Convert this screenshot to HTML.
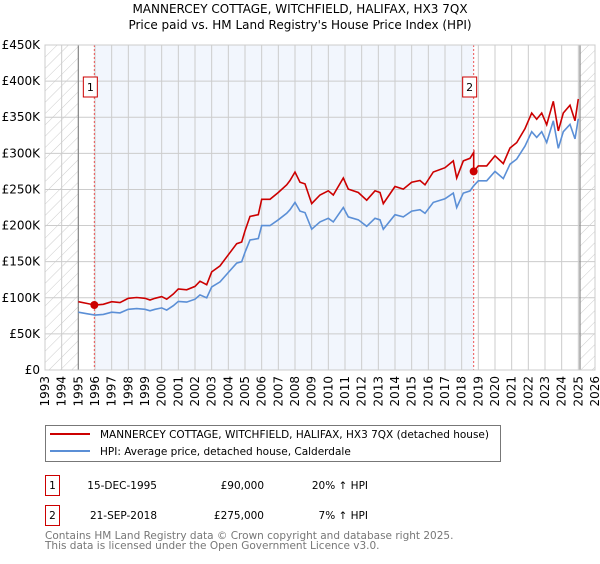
<!DOCTYPE html>
<html><head><meta charset="utf-8"><style>
body{margin:0;background:#fff;font-family:"DejaVu Sans","Liberation Sans",sans-serif;}
svg text{font-family:"DejaVu Sans","Liberation Sans",sans-serif;}
</style></head><body>
<svg id="chart" width="600" height="560" xmlns="http://www.w3.org/2000/svg">
<defs>
<pattern id="hatch" patternUnits="userSpaceOnUse" width="8" height="8" patternTransform="rotate(45)">
<line x1="0" y1="0" x2="0" y2="8" stroke="#ccc" stroke-width="1"/></pattern>
</defs>
<text x="300" y="13" text-anchor="middle" font-size="12">MANNERCEY COTTAGE, WITCHFIELD, HALIFAX, HX3 7QX</text>
<text x="300" y="29" text-anchor="middle" font-size="12">Price paid vs. HM Land Registry's House Price Index (HPI)</text>
<g id="plot"></g>
<g>
<rect x="45.5" y="425.5" width="455" height="36" fill="#fff" stroke="#777"/>
<line x1="50" y1="434" x2="90" y2="434" stroke="#cc0000" stroke-width="2"/>
<text x="100" y="438" font-size="10.5">MANNERCEY COTTAGE, WITCHFIELD, HALIFAX, HX3 7QX (detached house)</text>
<line x1="50" y1="451" x2="90" y2="451" stroke="#5b8fd6" stroke-width="2"/>
<text x="100" y="455" font-size="10.5">HPI: Average price, detached house, Calderdale</text>
</g>
<g font-size="10.5">
<rect x="45.5" y="475.5" width="14" height="20" fill="#fff" stroke="#cc0000"/>
<text x="52.5" y="489" text-anchor="middle">1</text>
<text x="157" y="489" text-anchor="end">15-DEC-1995</text>
<text x="264" y="489" text-anchor="end">£90,000</text>
<text x="368" y="489" text-anchor="end">20% ↑ HPI</text>
<rect x="45.5" y="505.5" width="14" height="20" fill="#fff" stroke="#cc0000"/>
<text x="52.5" y="519" text-anchor="middle">2</text>
<text x="157" y="519" text-anchor="end">21-SEP-2018</text>
<text x="264" y="519" text-anchor="end">£275,000</text>
<text x="368" y="519" text-anchor="end">7% ↑ HPI</text>
</g>
<text x="45" y="539" font-size="10.5" fill="#777">Contains HM Land Registry data © Crown copyright and database right 2025.</text>
<text x="45" y="549" font-size="10.5" fill="#777">This data is licensed under the Open Government Licence v3.0.</text>
</svg>
<script>
const hpiYears=[1995.0,1995.5,1996.0,1996.5,1997.0,1997.5,1998.0,1998.5,1999.0,1999.3,1999.6,2000.0,2000.3,2000.7,2001.0,2001.5,2002.0,2002.3,2002.7,2003.0,2003.5,2004.0,2004.5,2004.8,2005.0,2005.3,2005.8,2006.0,2006.5,2007.0,2007.5,2007.7,2008.0,2008.3,2008.6,2009.0,2009.5,2010.0,2010.3,2010.9,2011.2,2011.8,2012.3,2012.8,2013.1,2013.3,2014.0,2014.5,2015.0,2015.5,2015.8,2016.3,2017.0,2017.5,2017.7,2018.1,2018.5,2018.72,2019.0,2019.5,2020.0,2020.5,2020.9,2021.3,2021.8,2022.2,2022.5,2022.8,2023.1,2023.5,2023.8,2024.1,2024.5,2024.8,2025.0];
const hpiValues=[80,78,76,77,80,79,84,85,84,82,84,86,83,89,95,94,98,104,100,115,122,135,148,150,163,180,182,200,200,208,217,222,232,220,218,195,205,210,205,225,212,208,199,210,208,195,215,212,220,222,217,232,237,245,225,245,248,255,262,262,275,265,285,292,310,330,322,330,315,345,307,330,340,320,348];
const saleYears=[1995.96,2018.72];
const salePrices=[90,275];
const saleLabels=["1","2"];
const yTicks=[0,50,100,150,200,250,300,350,400,450];
const yTickLabels=["£0","£50K","£100K","£150K","£200K","£250K","£300K","£350K","£400K","£450K"];
const xTicks=[1993,1994,1995,1996,1997,1998,1999,2000,2001,2002,2003,2004,2005,2006,2007,2008,2009,2010,2011,2012,2013,2014,2015,2016,2017,2018,2019,2020,2021,2022,2023,2024,2025,2026];

const NS="http://www.w3.org/2000/svg";
const X0=45,X1=595,Y0=370,Y1=45;
const xs=y=>X0+(y-1993)/(2026-1993)*(X1-X0);
const ys=v=>Y0-v/450*(Y0-Y1);
const g=document.getElementById('plot');
function mk(t,a){const e=document.createElementNS(NS,t);for(const k in a)e.setAttribute(k,a[k]);g.appendChild(e);return e;}
function hpiAt(t){for(let i=1;i<hpiYears.length;i++){if(t<=hpiYears[i]){const f=(t-hpiYears[i-1])/(hpiYears[i]-hpiYears[i-1]);return hpiValues[i-1]+f*(hpiValues[i]-hpiValues[i-1]);}}return hpiValues[hpiValues.length-1];}

let e=mk('rect',{x:xs(1993),y:Y1,width:xs(1995)-xs(1993),height:Y0-Y1,fill:'url(#hatch)'});

e=mk('rect',{x:xs(2025.1),y:Y1,width:X1-xs(2025.1),height:Y0-Y1,fill:'url(#hatch)'});

e=mk('rect',{x:xs(saleYears[0]),y:Y1,width:xs(saleYears[1])-xs(saleYears[0]),height:Y0-Y1,fill:'#f2f6fd'});

xTicks.forEach(t=>{
 const l=mk('line',{x1:xs(t),x2:xs(t),y1:Y1,y2:Y0,stroke:'#ccc','stroke-width':1});
 
 const tx=mk('text',{x:0,y:0,'font-size':12,'text-anchor':'end',transform:`translate(${xs(t)+4},${Y0+6}) rotate(-90)`});
 tx.textContent=t;
});
yTicks.forEach((t,i)=>{
 const l=mk('line',{x1:X0,x2:X1,y1:ys(t),y2:ys(t),stroke:'#ccc','stroke-width':1});
 
 const tx=mk('text',{x:X0-5,y:ys(t)+4,'font-size':12,'text-anchor':'end'});
 tx.textContent=yTickLabels[i];
});
[1995,2025.1].forEach(t=>{const l=mk('line',{x1:xs(t),x2:xs(t),y1:Y1,y2:Y0,stroke:'#888','stroke-width':1.2});
 });
saleYears.forEach(t=>{const l=mk('line',{x1:xs(t),x2:xs(t),y1:Y1,y2:Y0,stroke:'#e55','stroke-width':1,'stroke-dasharray':'2,2'});
 });
let d=hpiYears.map((t,i)=>(i?'L':'M')+xs(t).toFixed(1)+','+ys(hpiValues[i]).toFixed(1)).join('');
e=mk('path',{d:d,fill:'none',stroke:'#5b8fd6','stroke-width':1.6});

let pd='';
hpiYears.forEach((t,i)=>{
 let k=0;if(t>=saleYears[1])k=1;
 const r=salePrices[k]/hpiAt(saleYears[k]);
 if(i>0&&hpiYears[i-1]<saleYears[1]&&t>=saleYears[1]){
  pd+='L'+xs(saleYears[1]).toFixed(1)+','+ys(hpiAt(saleYears[1])*salePrices[0]/hpiAt(saleYears[0])).toFixed(1);
  pd+='L'+xs(saleYears[1]).toFixed(1)+','+ys(salePrices[1]).toFixed(1);
 }
 pd+=(i?'L':'M')+xs(t).toFixed(1)+','+ys(hpiValues[i]*r).toFixed(1);
});
e=mk('path',{d:pd,fill:'none',stroke:'#cc0000','stroke-width':1.6});

saleYears.forEach((t,i)=>{
 const c=mk('circle',{cx:xs(t),cy:ys(salePrices[i]),r:4,fill:'#cc0000'});
 
 const bx=xs(t)-11;
 const r=mk('rect',{x:bx,y:77,width:14,height:20,fill:'#fff',stroke:'#cc0000'});
 
 const tx=mk('text',{x:bx+7,y:91,'font-size':11,'text-anchor':'middle'});
 tx.textContent=saleLabels[i];
});
e=mk('rect',{x:X0,y:Y1,width:X1-X0,height:Y0-Y1,fill:'none',stroke:'#ccc'});

</script>
</body></html>
